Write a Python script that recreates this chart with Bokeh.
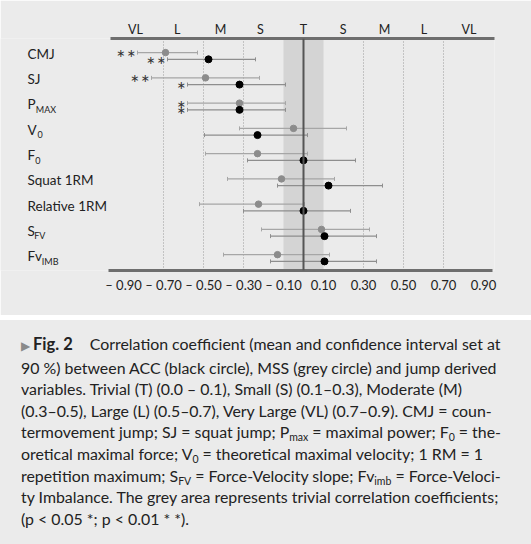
import numpy as np
from bokeh.plotting import figure
from bokeh.layouts import column
from bokeh.models import (ColumnDataSource, Range1d, LinearAxis, FixedTicker,
                          BoxAnnotation, Span, Div)
from bokeh.core.properties import value
from bokeh.embed import file_html
from bokeh.resources import INLINE

# variables (top to bottom) and their subscripts
labels = ["CMJ", "SJ", "P", "V", "F", "Squat 1RM", "Relative 1RM", "S", "Fv"]
subs = ["", "", "MAX", "0", "0", "", "", "FV", "IMB"]

# MSS (grey circle): r and 90% CI
mss_r = [-0.69, -0.49, -0.32, -0.05, -0.23, -0.11, -0.225, 0.09, -0.13]
mss_lo = [-0.83, -0.76, -0.58, -0.32, -0.49, -0.38, -0.52, -0.21, -0.40]
mss_hi = [-0.53, -0.22, -0.09, 0.215, 0.02, 0.155, 0.005, 0.33, 0.13]
mss_sig = ["∗\u200a∗", "∗\u200a∗", "∗", "", "", "", "", "", ""]

# ACC (black circle): r and 90% CI
acc_r = [-0.475, -0.32, -0.32, -0.23, 0.0, 0.125, 0.0, 0.105, 0.105]
acc_lo = [-0.68, -0.58, -0.58, -0.495, -0.28, -0.13, -0.30, -0.165, -0.165]
acc_hi = [-0.24, -0.09, -0.09, 0.02, 0.26, 0.395, 0.235, 0.365, 0.365]
acc_sig = ["∗\u200a∗", "∗", "∗", "", "", "", "", "", ""]

x_ticks = [-0.9, -0.7, -0.5, -0.3, -0.1, 0.1, 0.3, 0.5, 0.7, 0.9]
grid_ticks = [-0.7, -0.5, -0.3, 0.3, 0.5, 0.7]
band_names = ["VL", "L", "M", "S", "T", "S", "M", "L", "VL"]
band_pos = [-0.84, -0.632, -0.415, -0.215, 0.0, 0.198, 0.405, 0.602, 0.827]

BG = "#ebebeb"
FONT = "Lato"

rows = np.arange(len(labels))
off = 0.133

p = figure(width=531, height=315, output_backend="svg", toolbar_location=None,
           x_range=Range1d(-1.515, 0.955), y_range=Range1d(8.494, -0.692),
           y_axis_location=None, min_border_left=0, min_border_right=37,
           min_border_top=38, min_border_bottom=45)
p.background_fill_color = BG
p.border_fill_color = BG
p.outline_line_color = None
p.ygrid.visible = False

p.xgrid.ticker = FixedTicker(ticks=grid_ticks)
p.xgrid.grid_line_color = "#9a9a9a"
p.xgrid.grid_line_dash = "1 2"
p.xgrid.grid_line_width = 1

p.add_layout(BoxAnnotation(left=-0.1, right=0.1, fill_color="#d4d4d4",
                           fill_alpha=1, line_color=None, level="underlay"))
p.add_layout(Span(location=0, dimension="height", line_color="#555555",
                  line_width=2))


def style_axis(ax, ticks, overrides, bounds, size, standoff):
    ax.ticker = FixedTicker(ticks=ticks)
    ax.major_label_overrides = overrides
    ax.bounds = bounds
    ax.axis_line_width = 3
    ax.axis_line_color = "#6e6e6e"
    ax.major_tick_line_color = None
    ax.minor_tick_line_color = None
    ax.major_tick_out = 0
    ax.major_tick_in = 0
    ax.major_label_standoff = standoff
    ax.major_label_text_font = FONT
    ax.major_label_text_font_size = size
    ax.major_label_text_color = "#222222"


def fmt(v):
    return ("– %.2f" % abs(v)) if v < 0 else "%.2f" % v


xa = p.xaxis[0]
style_axis(xa, x_ticks, {t: fmt(t) for t in x_ticks}, (-0.976, 0.945), "13px", 6)

top = LinearAxis()
style_axis(top, band_pos, {t: n for t, n in zip(band_pos, band_names)},
           (-0.965, 0.96), "12.5px", 2)
p.add_layout(top, "above")

mss = ColumnDataSource(dict(y=rows - off, r=mss_r, lo=mss_lo, hi=mss_hi,
                            sig=mss_sig, sx=np.array(mss_lo) - 0.008))
acc = ColumnDataSource(dict(y=rows + off, r=acc_r, lo=acc_lo, hi=acc_hi,
                            sig=acc_sig, sx=np.array(acc_lo) - 0.008))

for src, bar, dot, size in [(mss, "#a6a6a6", "#8c8c8c", 6.5), (acc, "#8e8e8e", "#000000", 7)]:
    p.segment(x0="lo", y0="y", x1="hi", y1="y", source=src, line_color=bar,
              line_width=1.3)
    for end in ["lo", "hi"]:
        p.scatter(x=end, y="y", source=src, marker="dash", angle=np.pi / 2,
                  size=4, line_color=bar, line_width=1)
    p.scatter(x="r", y="y", source=src, size=size, fill_color=dot,
              line_color=dot)
    p.text(x="sx", y="y", text="sig", source=src, text_align="right",
           text_baseline="middle", text_font=value("DejaVu Sans"),
           text_font_size=value("11px"), text_color="#333333", y_offset=1)

lab = ColumnDataSource(dict(x=np.full(len(labels), -1.38), y=rows, t=labels,
                            s=subs, dx=[0, 0, 8.3, 10, 7.7, 0, 0, 6.7, 14.3]))
p.text(x="x", y="y", text="t", source=lab, text_baseline="middle",
       text_font=value(FONT), text_font_size=value("13.5px"),
       text_color="#222222", y_offset=-2)
p.text(x="x", y="y", text="s", source=lab, x_offset="dx", text_baseline="middle",
       text_font=value(FONT), text_font_size=value("9px"),
       text_color="#222222", y_offset=3)

sub = '<span style="font-size:10.5px;vertical-align:-3px;line-height:0">%s</span>'
lines = [
    '<span style="color:#8a8a8a;font-size:12px;margin-right:3px">&#9654;</span>'
    '<b style="font-size:16.5px">Fig. 2</b>'
    '<span style="display:inline-block;width:17px"></span>'
    'Correlation coefficient (mean and confidence interval set at',
    '90 %) between ACC (black circle), MSS (grey circle) and jump derived',
    'variables. Trivial (T) (0.0 – 0.1), Small (S) (0.1–0.3), Moderate (M)',
    '(0.3–0.5), Large (L) (0.5–0.7), Very Large (VL) (0.7–0.9). CMJ = coun-',
    'termovement jump; SJ = squat jump; P' + sub % 'max' + ' = maximal power; F' + sub % '0' + ' = the-',
    'oretical maximal force; V' + sub % '0' + ' = theoretical maximal velocity; 1 RM = 1',
    'repetition maximum; S' + sub % 'FV' + ' = Force-Velocity slope; Fv' + sub % 'imb' + ' = Force-Veloci-',
    'ty Imbalance. The grey area represents trivial correlation coefficients;',
    '(p &lt; 0.05 *; p &lt; 0.01 * *).',
]
caption = Div(text="<br>".join(lines), width=531, height=224, margin=0,
              styles={"background-color": BG, "font-family": FONT,
                      "font-size": "15.9px", "line-height": "21.6px",
                      "color": "#222222", "padding": "13px 0 0 21px",
                      "white-space": "nowrap", "box-sizing": "border-box"})
gap = Div(text="", width=531, height=5, margin=0)

layout = column(p, gap, caption)
open("out.html", "w").write(file_html(layout, INLINE))
